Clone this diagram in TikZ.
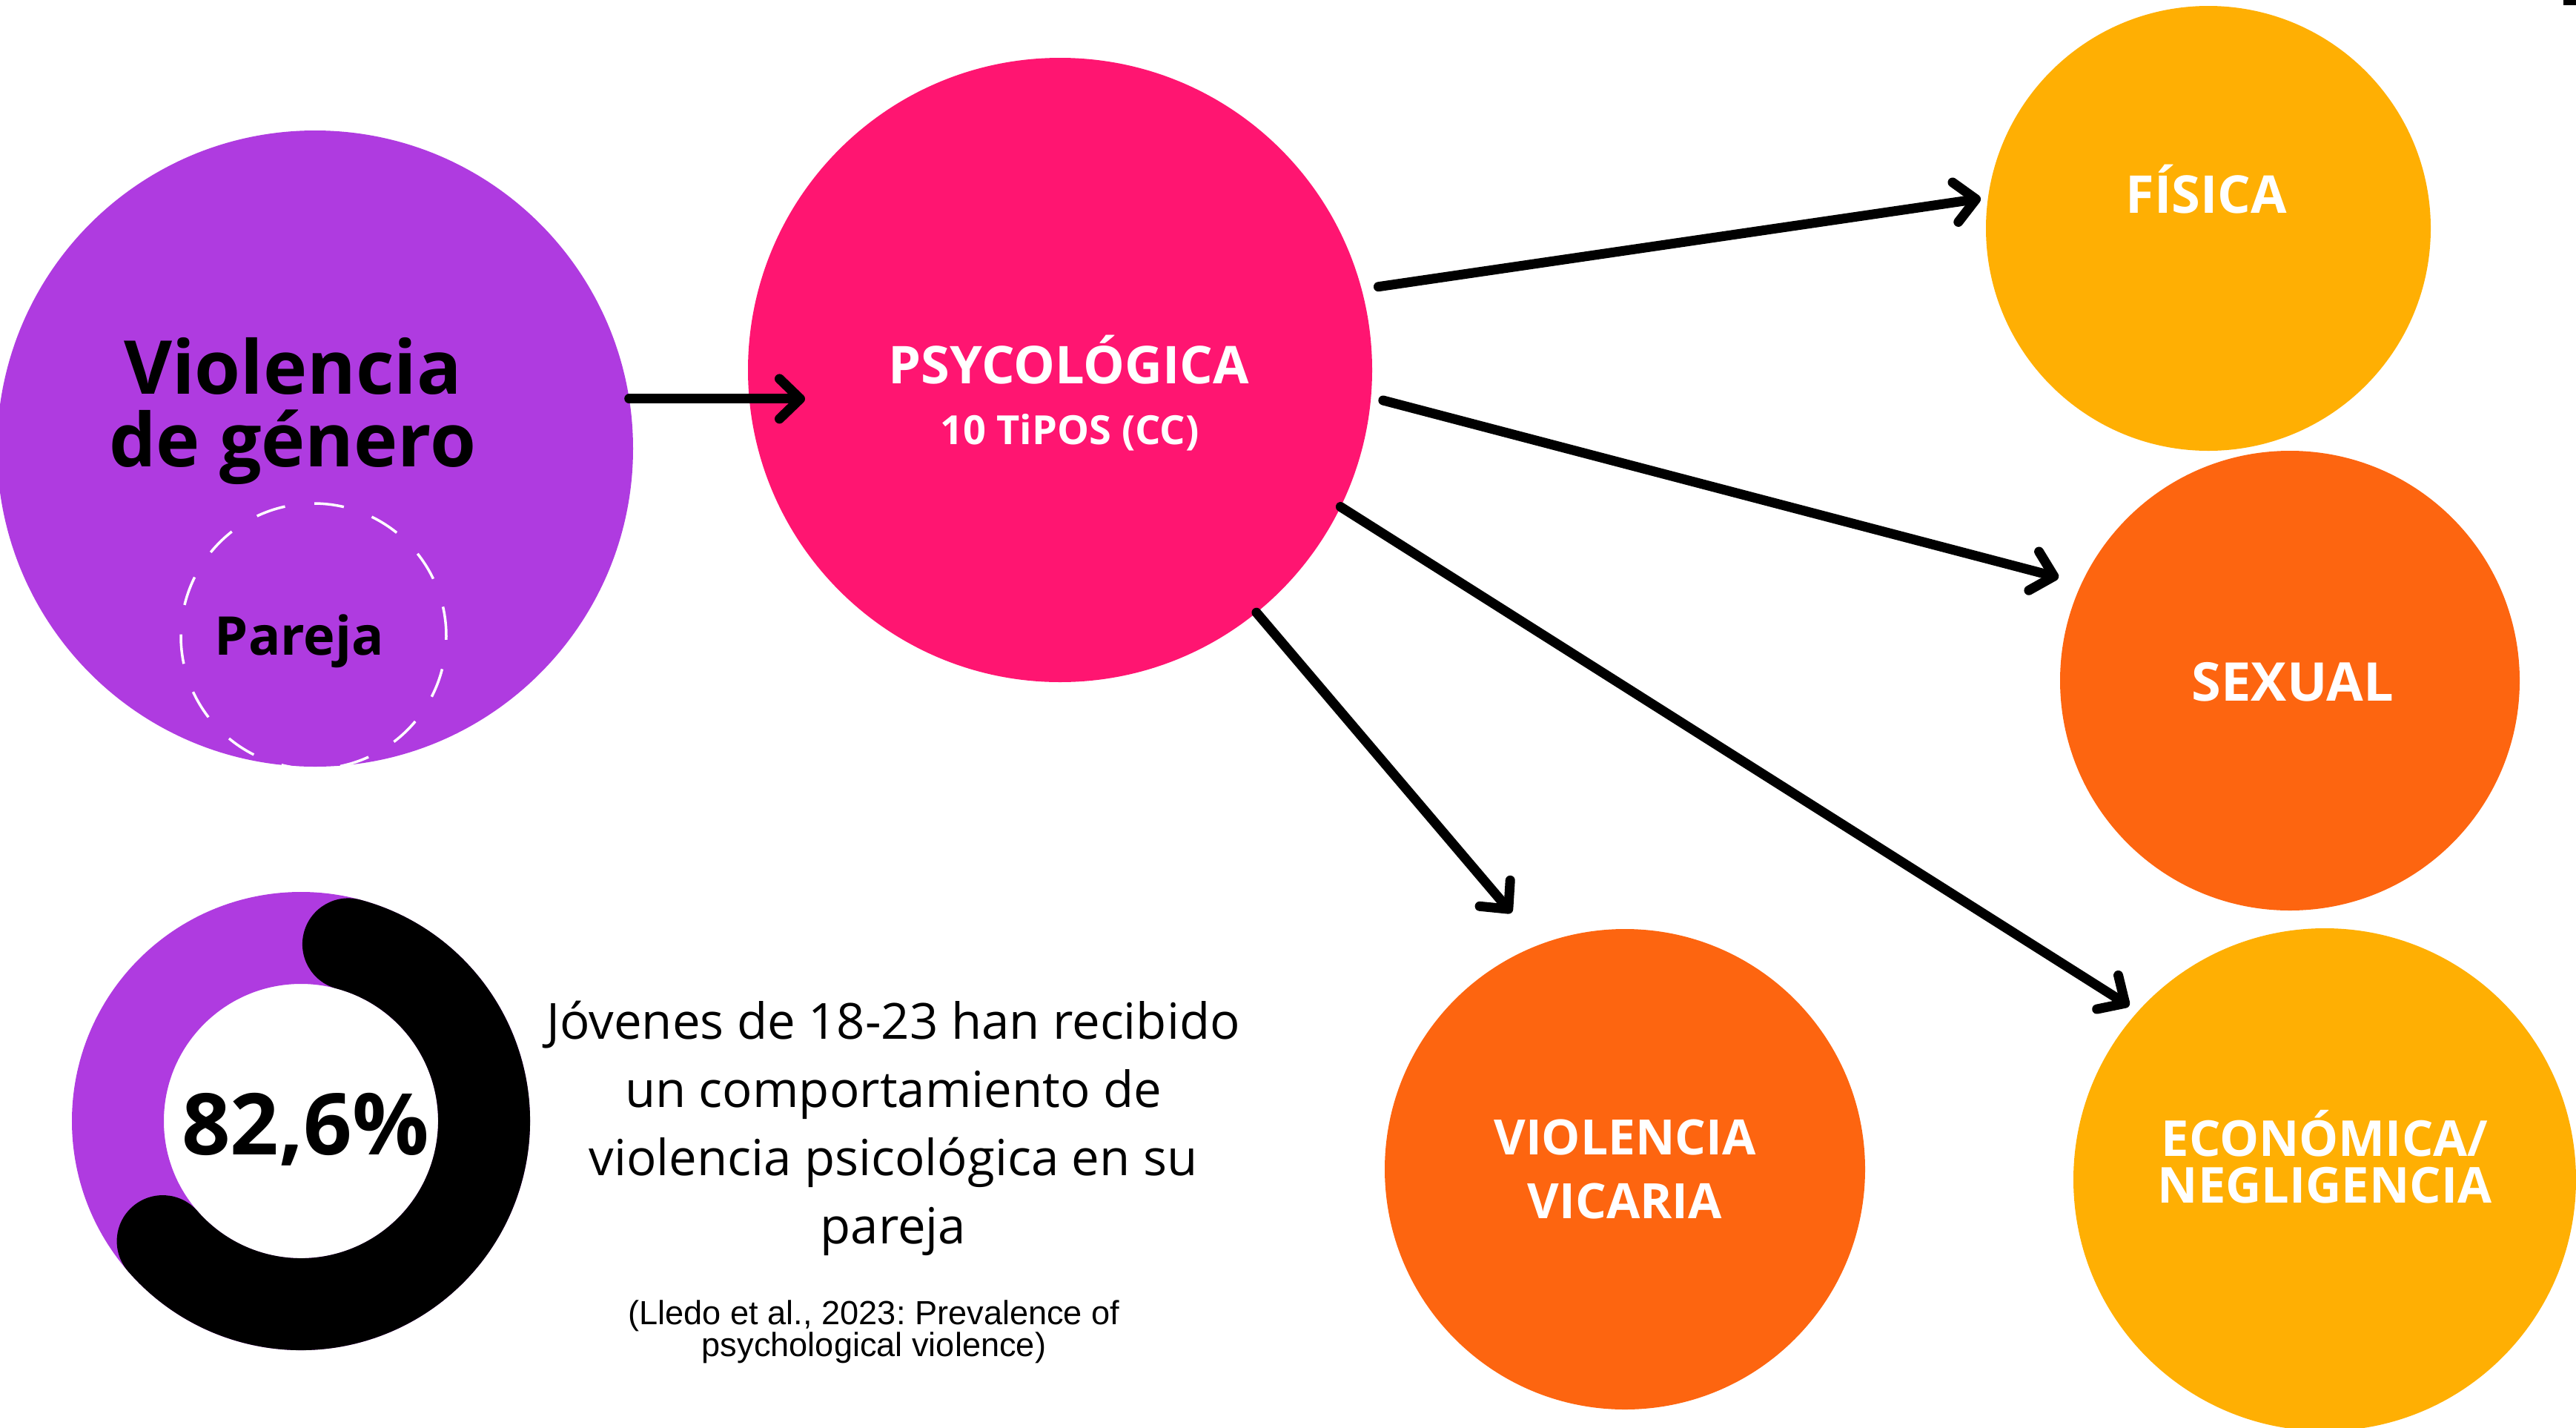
\documentclass[tikz,border=0pt]{standalone}
\usepackage{fontspec}
\setmainfont{Open Sans}
\newfontfamily\citefont{Liberation Sans}
\usepackage{tikz}
\usetikzlibrary{shapes,arrows.meta,calc,positioning}

\definecolor{violPurple}{HTML}{AF3BE0}
\definecolor{psyPink}{HTML}{FF1571}
\definecolor{typeAmber}{HTML}{FFAF03}
\definecolor{typeOrange}{HTML}{FD6510}

\frenchspacing

\begin{document}
\begin{tikzpicture}[
	node distance=0.5cm and 0.5cm
	]
\tikzset{
	base/.style = { circle, inner sep=0pt, outer sep=0pt },
	purpleCircle/.style = { base, fill=violPurple, minimum size=8.58cm },
	pinkCircle/.style = { base, fill=psyPink, minimum size=8.42cm },
	amberCircle/.style = { base, fill=typeAmber },
	orangeCircle/.style = { base, fill=typeOrange },
	dashCircle/.style = { base, draw=white, line width=0.035cm, dash pattern=on 0.4cm off 0.4cm, minimum size=3.58cm },
	whiteText/.style = { text=white, align=center, inner sep=0pt, font=\fontsize{20}{24}\selectfont\bfseries },
	darkText/.style = { text=black, align=center, inner sep=0pt },
	arrow/.style = { line width=0.13cm, line cap=round, -{Straight Barb[round, length=0.28cm, width=0.54cm]} }
}
	\useasboundingbox (0,0) rectangle (34.75,-19.25);
	\clip (0,0) rectangle (34.75,-19.25);

	% left column
	\node (viol) [purpleCircle] at (4.25,-6.05) {};
	\node (violText) [darkText, font=\fontsize{28.5}{27.9}\selectfont\bfseries] at ([xshift=-0.3cm, yshift=0.51cm]viol.center) {Violencia\\de género};
	\node (pareja) [dashCircle] at (4.23,-8.58) {};
	\node (parejaText) [darkText, font=\fontsize{20.5}{24}\selectfont\bfseries] at ([xshift=-0.19cm, yshift=-0.07cm]pareja.center) {Pareja};

	\coordinate (donut) at (4.06,-15.12);
	\draw [violPurple, line width=1.24cm] (donut) circle (2.47);
	\draw [black, line width=1.24cm, line cap=round] ($(donut)+(75:2.47)$) arc[start angle=75, end angle=-139, radius=2.47];
	\node (pct) [darkText, font=\fontsize{32.7}{36}\selectfont\bfseries] at ([xshift=0.06cm, yshift=-0.11cm]donut) {82,6\%};

	\node (stat) [darkText, font=\fontsize{19.1}{26.2}\selectfont] at (12.05,-15.22) {Jóvenes de 18-23 han recibido\\un comportamiento de\\violencia psicológica en su\\pareja};
	\node (cite) [darkText, font=\citefont\fontsize{12.85}{12.3}\selectfont, below=0.58cm of stat, xshift=-0.26cm] {(Lledo et al., 2023: Prevalence of\\psychological violence)};

	% middle
	\node (psy) [pinkCircle] at (14.30,-4.99) {};
	\node (psyTitle) [whiteText] at ([xshift=0.12cm, yshift=0.14cm]psy.center) {PSYCOLÓGICA};
	\node (psySub) [whiteText, font=\fontsize{15.4}{18}\selectfont\bfseries] at ([xshift=0.13cm, yshift=-0.84cm]psy.center) {10 TiPOS (CC)};

	% right column
	\node (fisica) [amberCircle, minimum size=6.00cm] at (29.79,-3.08) {};
	\node (fisicaText) [whiteText] at ([xshift=-0.03cm, yshift=0.53cm]fisica.center) {FÍSICA};

	\node (sexual) [orangeCircle, minimum size=6.20cm] at (30.89,-9.18) {};
	\node (sexualText) [whiteText, font=\fontsize{20.5}{24}\selectfont\bfseries] at ([xshift=0.04cm, yshift=-0.02cm]sexual.center) {SEXUAL};

	\node (vicaria) [orangeCircle, minimum size=6.48cm] at (21.92,-15.77) {};
	\node (vicariaText) [whiteText, font=\fontsize{18.7}{24.7}\selectfont\bfseries] at (vicaria.center) {VIOLENCIA\\VICARIA};

	\node (econ) [amberCircle, minimum size=6.78cm] at (31.36,-15.91) {};
	\node (econText) [whiteText, font=\fontsize{19}{17.9}\selectfont\bfseries] at ([yshift=0.31cm]econ.center) {ECONÓMICA/\\NEGLIGENCIA};

	\fill (34.58,0) rectangle (34.75,-0.07);

	% paths
	\draw [arrow, shorten >=-0.77cm] (viol.9.8) -- (viol.9.8 -| psy.west);
	\draw [arrow, shorten <=0.23cm, shorten >=0.1cm] (psy.15.4) -- (fisica.172);
	\draw [arrow, shorten <=0.17cm, shorten >=0.32cm] (psy.-5.8) -- (sexual.155.3);
	\draw [arrow, shorten >=0.14cm] (psy.-26.4) -- (econ.138.4);
	\draw [arrow, shorten >=0.57cm] (psy.-51.4) -- (vicaria.111.3);
\end{tikzpicture}
\end{document}
